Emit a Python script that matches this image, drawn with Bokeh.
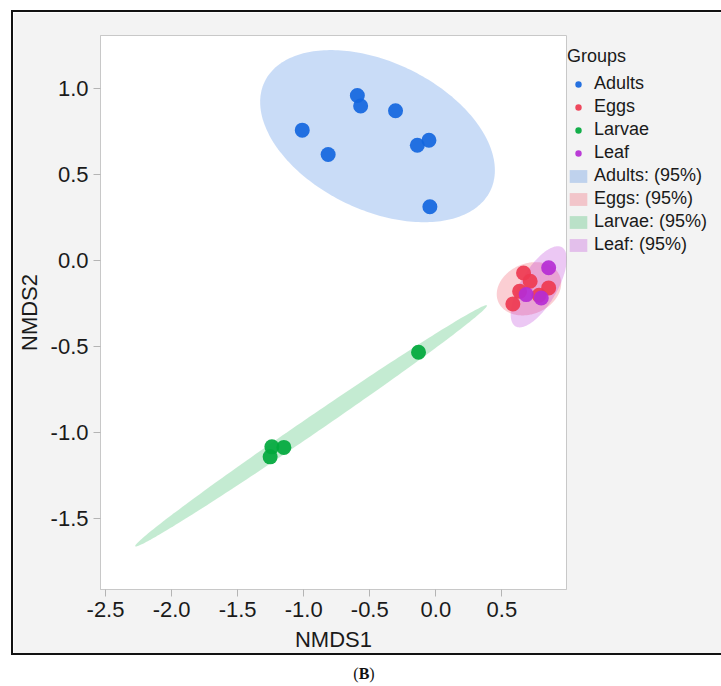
import numpy as np
from bokeh.plotting import figure
from bokeh.models import Legend, LegendItem, Div, FixedTicker
from bokeh.layouts import column
from bokeh.embed import file_html
from bokeh.resources import INLINE

# ---------------- data ----------------
groups = ["Adults", "Eggs", "Larvae", "Leaf"]

adults_x = [-1.011, -0.815, -0.594, -0.569, -0.305, -0.140, -0.052, -0.045]
adults_y = [0.760, 0.618, 0.961, 0.900, 0.873, 0.672, 0.701, 0.315]

eggs_x = [0.664, 0.714, 0.634, 0.583, 0.854, 0.781]
eggs_y = [-0.070, -0.118, -0.177, -0.251, -0.157, -0.200]

larvae_x = [-0.131, -1.241, -1.150, -1.254]
larvae_y = [-0.531, -1.081, -1.084, -1.139]

leaf_x = [0.854, 0.684, 0.798]
leaf_y = [-0.040, -0.196, -0.216]

x_ticks = [-2.5, -2.0, -1.5, -1.0, -0.5, 0.0, 0.5]
x_tick_labels = ["-2.5", "-2.0", "-1.5", "-1.0", "-0.5", "0.0", "0.5"]
y_ticks = [-1.5, -1.0, -0.5, 0.0, 0.5, 1.0]
y_tick_labels = ["-1.5", "-1.0", "-0.5", "0.0", "0.5", "1.0"]

conf_level_label = "95%"
chi2_95_df2 = 5.991  # chi-square quantile, 2 df, 95 %

# ---------------- styles ----------------
point_colors = {"Adults": "#1466DE", "Eggs": "#EE3A50", "Larvae": "#00A83C", "Leaf": "#B52CD4"}
ellipse_alpha = {"Adults": 0.23, "Eggs": 0.25, "Larvae": 0.23, "Leaf": 0.26}
FONT = "Liberation Sans"

data = {
    "Adults": (adults_x, adults_y),
    "Eggs": (eggs_x, eggs_y),
    "Larvae": (larvae_x, larvae_y),
    "Leaf": (leaf_x, leaf_y),
}


def conf_ellipse(xs, ys, q, n=240):
    x = np.asarray(xs, float)
    y = np.asarray(ys, float)
    cov = np.cov(x, y)
    vals, vecs = np.linalg.eigh(cov)
    vals = np.clip(vals, 0, None)
    t = np.linspace(0, 2 * np.pi, n)
    circ = np.vstack([np.cos(t), np.sin(t)])
    pts = vecs @ (np.sqrt(vals * q)[:, None] * circ)
    return x.mean() + pts[0], y.mean() + pts[1]


p = figure(
    frame_width=464, frame_height=550,
    x_range=(-2.538, 0.989), y_range=(-1.910, 1.310),
    output_backend="svg", toolbar_location=None,
    min_border_left=85, min_border_top=23, min_border_right=157, min_border_bottom=68,
    background_fill_color="white", border_fill_color="#f3f3f3",
    outline_line_color="#c8c8c8",
)
p.margin = (10, 0, 0, 11)
p.styles = {
    "border-left": "2px solid #111111",
    "border-top": "2px solid #111111",
    "border-bottom": "2px solid #111111",
}
p.grid.visible = False

ell_r = {}
for g in groups:
    ex, ey = conf_ellipse(*data[g], chi2_95_df2)
    ell_r[g] = p.patch(ex, ey, fill_color=point_colors[g], fill_alpha=ellipse_alpha[g], line_color=None)

pts_r = {}
for g in groups:
    xs, ys = data[g]
    pts_r[g] = p.scatter(xs, ys, size=15, fill_color=point_colors[g], line_color=None, fill_alpha=0.92)

# axes
p.xaxis.ticker = FixedTicker(ticks=x_ticks)
p.yaxis.ticker = FixedTicker(ticks=y_ticks)
p.xaxis.major_label_overrides = dict(zip(x_ticks, x_tick_labels))
p.yaxis.major_label_overrides = dict(zip(y_ticks, y_tick_labels))
p.xaxis.axis_label = "NMDS1"
p.yaxis.axis_label = "NMDS2"
for ax in (p.xaxis[0], p.yaxis[0]):
    ax.axis_line_color = "#c8c8c8"
    ax.major_tick_line_color = "#b4b4b4"
    ax.major_tick_out = 7
    ax.major_tick_in = 0
    ax.minor_tick_line_color = None
    ax.major_label_text_font = FONT
    ax.major_label_text_font_size = "22px"
    ax.major_label_text_color = "#1a1a1a"
    ax.major_label_standoff = 5
    ax.axis_label_text_font = FONT
    ax.axis_label_text_font_size = "22px"
    ax.axis_label_text_font_style = "normal"
    ax.axis_label_text_color = "#1a1a1a"
p.xaxis.axis_label_standoff = 7
p.yaxis.axis_label_standoff = 6

items = [LegendItem(label=g, renderers=[pts_r[g]]) for g in groups]
items += [LegendItem(label=f"{g}: ({conf_level_label})", renderers=[ell_r[g]]) for g in groups]
legend = Legend(
    items=items, title="Groups", location=(1, 334),
    margin=0, padding=5, spacing=2,
    glyph_width=22, glyph_height=16, label_height=16, label_standoff=5,
    border_line_color=None, background_fill_alpha=0,
    label_text_font=FONT, label_text_font_size="18px", label_text_color="#1a1a1a",
    title_text_font=FONT, title_text_font_size="18px", title_text_font_style="normal",
    title_text_color="#1a1a1a", title_standoff=6,
)
p.add_layout(legend, "right")

caption = Div(
    text="(<b>B</b>)", width=706,
    styles={"font-family": "Liberation Serif", "font-size": "16px", "text-align": "center",
            "color": "#111111"},
)
caption.margin = (8, 0, 0, 11)

layout = column(p, caption)
open("out.html", "w").write(file_html(layout, INLINE))
